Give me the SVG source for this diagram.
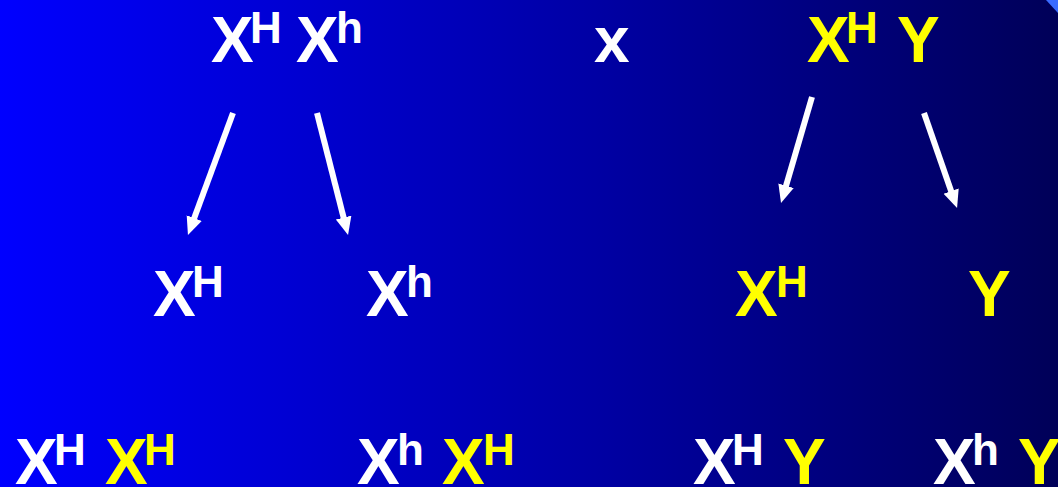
<svg xmlns="http://www.w3.org/2000/svg" width="1058" height="487" viewBox="0 0 1058 487">
<defs>
<linearGradient id="bg" x1="0" y1="0" x2="1" y2="0">
<stop offset="0" stop-color="#0000FF"/>
<stop offset="0.55" stop-color="#0000A6"/>
<stop offset="1" stop-color="#000058"/>
</linearGradient>
<marker id="ah" markerUnits="userSpaceOnUse" markerWidth="20" markerHeight="18" viewBox="0 -9 20 18" refX="2" refY="0" orient="auto">
<path d="M0,-8 L18,0 L0,8 z" fill="#FFFFFF"/>
</marker>
<style>
text{font-family:"Liberation Sans",Arial,sans-serif;font-weight:bold;}
.big{font-size:64px;}
.sup{font-size:44px;}
.w{fill:#FFFFFF;}
.y{fill:#FFFF00;}
.arr{stroke:#FFFFFF;stroke-width:6;fill:none;marker-end:url(#ah);}
</style>
</defs>
<rect x="0" y="0" width="1058" height="487" fill="url(#bg)"/>
<polygon points="1046,0 1058,0 1058,13" fill="#3A6BFF"/>

<g id="mother">
<text class="w"><tspan class="big" x="211" y="62">X</tspan><tspan class="sup" x="250" y="43">H</tspan><tspan class="big" x="296" y="62">X</tspan><tspan class="sup" x="336" y="43">h</tspan></text>
</g>
<g id="cross"><text class="w big" x="594" y="62">x</text></g>
<g id="father">
<text class="y"><tspan class="big" x="807" y="62">X</tspan><tspan class="sup" x="846" y="43">H</tspan><tspan class="big" x="897" y="62">Y</tspan></text>
</g>

<g id="gamete-XH">
<text class="w"><tspan class="big" x="153" y="316">X</tspan><tspan class="sup" x="192" y="297">H</tspan></text>
</g>
<g id="gamete-Xh">
<text class="w"><tspan class="big" x="366" y="316">X</tspan><tspan class="sup" x="406" y="297">h</tspan></text>
</g>
<g id="gamete-XH-father">
<text class="y"><tspan class="big" x="735" y="316">X</tspan><tspan class="sup" x="776" y="297">H</tspan></text>
</g>
<g id="gamete-Y">
<text class="y big" x="968" y="316">Y</text>
</g>

<g id="child-1">
<text><tspan class="big w" x="15" y="484">X</tspan><tspan class="sup w" x="54" y="465">H</tspan><tspan class="big y" x="105" y="484">X</tspan><tspan class="sup y" x="144" y="465">H</tspan></text>
</g>
<g id="child-2">
<text><tspan class="big w" x="357" y="484">X</tspan><tspan class="sup w" x="397" y="465">h</tspan><tspan class="big y" x="442" y="484">X</tspan><tspan class="sup y" x="483" y="465">H</tspan></text>
</g>
<g id="child-3">
<text><tspan class="big w" x="693" y="484">X</tspan><tspan class="sup w" x="732" y="465">H</tspan><tspan class="big y" x="783" y="484">Y</tspan></text>
</g>
<g id="child-4">
<text><tspan class="big w" x="933" y="484">X</tspan><tspan class="sup w" x="972" y="465">h</tspan><tspan class="big y" x="1018" y="484">Y</tspan></text>
</g>

<g id="connectors">
<line class="arr" x1="233" y1="113" x2="193.5" y2="220"/>
<line class="arr" x1="317" y1="113" x2="344.1" y2="219.5"/>
<line class="arr" x1="812" y1="97" x2="785.5" y2="187.6"/>
<line class="arr" x1="924" y1="113" x2="951.8" y2="192.9"/>
</g>
</svg>
